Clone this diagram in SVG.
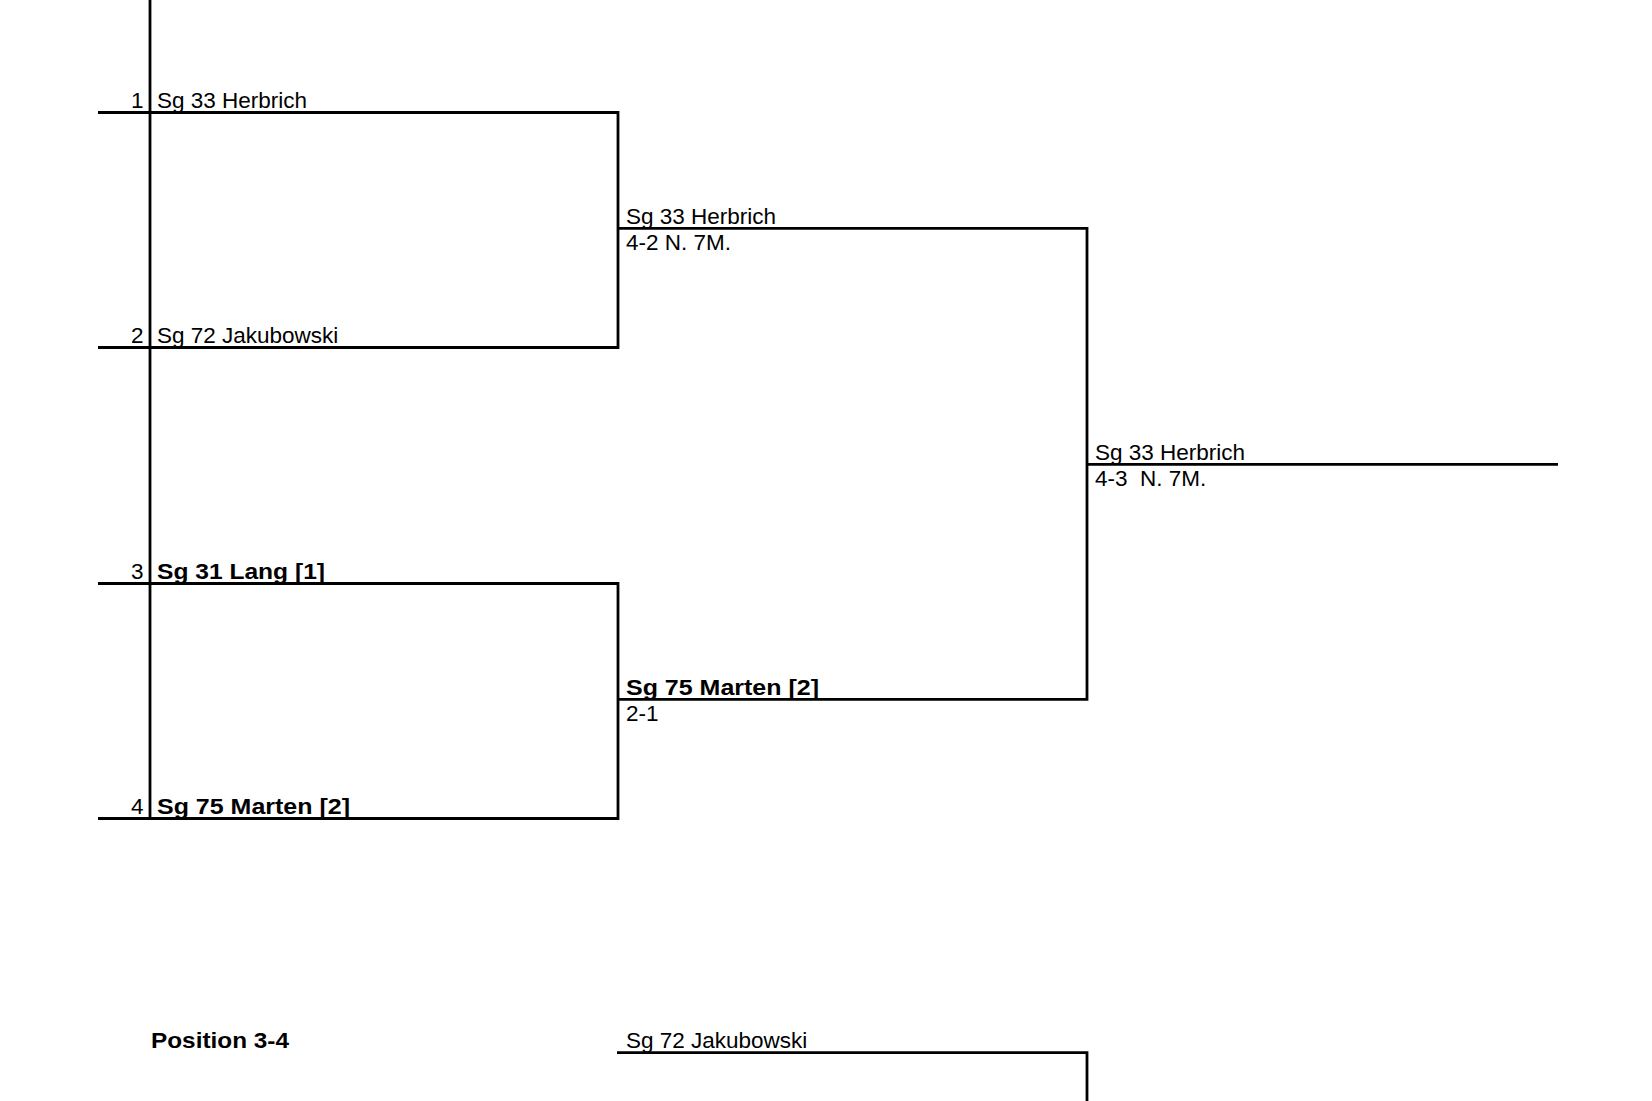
<svg xmlns="http://www.w3.org/2000/svg" width="1652" height="1101" viewBox="0 0 1652 1101">
<style>
.ln{stroke:#000;stroke-width:2.8;fill:none;stroke-linecap:butt}
.t{font-family:"Liberation Sans",Arial,sans-serif;font-size:22.5px;fill:#000}
.b{font-weight:bold}
.n{text-anchor:end}
.pre{white-space:pre}
</style>
<rect width="1652" height="1101" fill="#fff"/>
<g id="connectors">
<path class="ln" d="M150,0 V818.5"/>
<path class="ln" d="M98,112.5 H618 V347.5 H98"/>
<path class="ln" d="M98,583.5 H618 V818.5 H98"/>
<path class="ln" d="M618,228.3 H1087 V699.3 H618"/>
<path class="ln" d="M1087,464.3 H1558"/>
<path class="ln" d="M617,1052.7 H1087 V1101"/>
</g>
<g id="entry1">
<text class="t n" x="143.5" y="108.2">1</text>
<text class="t" x="157" y="108.2">Sg 33 Herbrich</text>
</g>
<g id="entry2">
<text class="t n" x="143.5" y="343.2">2</text>
<text class="t" x="157" y="343.2">Sg 72 Jakubowski</text>
</g>
<g id="entry3">
<text class="t n" x="143.5" y="579.2">3</text>
<text class="t b" x="157" y="579.2" textLength="168" lengthAdjust="spacingAndGlyphs">Sg 31 Lang [1]</text>
</g>
<g id="entry4">
<text class="t n" x="143.5" y="814.2">4</text>
<text class="t b" x="157" y="814.2" textLength="193" lengthAdjust="spacingAndGlyphs">Sg 75 Marten [2]</text>
</g>
<g id="semifinal1">
<text class="t" x="626" y="224">Sg 33 Herbrich</text>
<text class="t" x="626" y="250.2">4-2 N. 7M.</text>
</g>
<g id="semifinal2">
<text class="t b" x="626" y="695" textLength="193" lengthAdjust="spacingAndGlyphs">Sg 75 Marten [2]</text>
<text class="t" x="626" y="721.2">2-1</text>
</g>
<g id="final">
<text class="t" x="1095" y="460">Sg 33 Herbrich</text>
<text class="t pre" x="1095" y="486" xml:space="preserve">4-3  N. 7M.</text>
</g>
<g id="position34-title">
<text class="t b" x="151" y="1048.4" textLength="138" lengthAdjust="spacingAndGlyphs">Position 3-4</text>
</g>
<g id="position34-entry">
<text class="t" x="626" y="1048.4">Sg 72 Jakubowski</text>
</g>
</svg>
